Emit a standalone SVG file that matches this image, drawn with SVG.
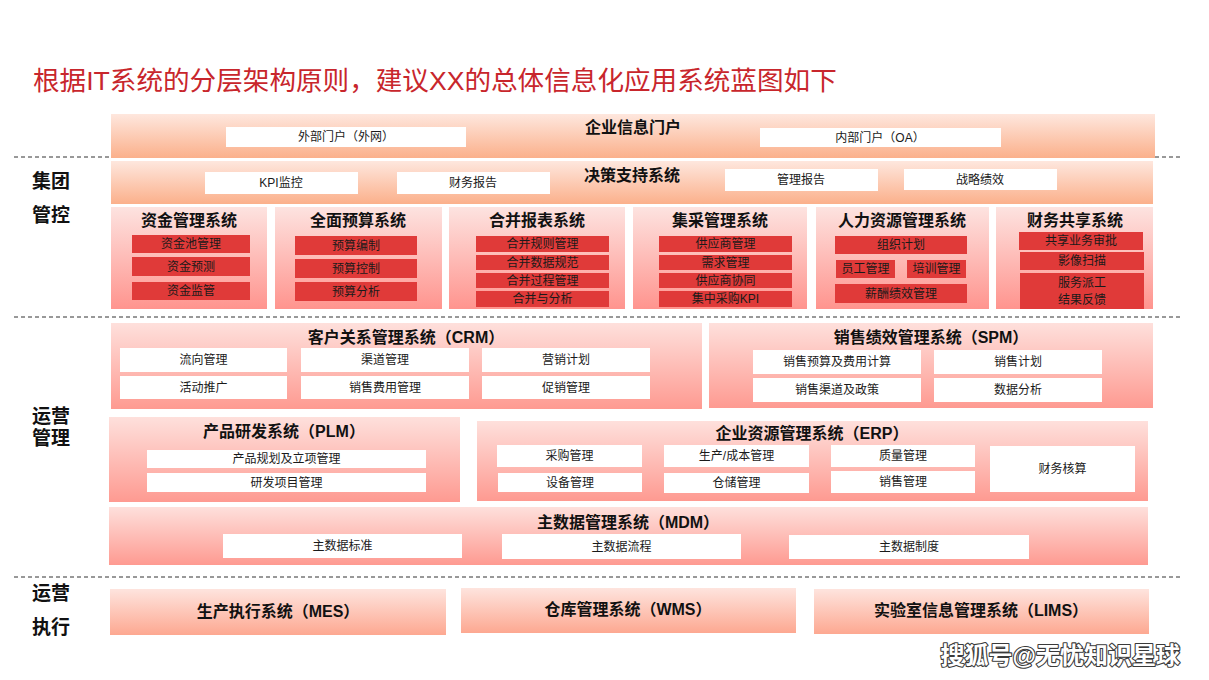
<svg xmlns="http://www.w3.org/2000/svg" width="1209" height="680" viewBox="0 0 1209 680">
<defs>
<linearGradient id="gPeach" x1="0" y1="0" x2="0" y2="1"><stop offset="0" stop-color="#fee7de"/><stop offset="1" stop-color="#fbb08b"/></linearGradient>
<linearGradient id="gPink" x1="0" y1="0" x2="0" y2="1"><stop offset="0" stop-color="#fde3e0"/><stop offset="1" stop-color="#ff948e"/></linearGradient>
<linearGradient id="gSalmon" x1="0" y1="0" x2="0" y2="1"><stop offset="0" stop-color="#fee0dc"/><stop offset="1" stop-color="#fe9a91"/></linearGradient>
<linearGradient id="gBottom" x1="0" y1="0" x2="0" y2="1"><stop offset="0" stop-color="#fee4de"/><stop offset="1" stop-color="#fda891"/></linearGradient>
</defs>
<style>
text{font-family:"Liberation Sans","Noto Sans CJK SC",sans-serif;text-anchor:middle;dominant-baseline:central;fill:#1a1a1a}
.title{font-size:26.6px;fill:#c8262c;text-anchor:start}
.h{font-size:16px;font-weight:bold;fill:#111}
.lbl{font-size:19px;font-weight:bold;fill:#111}
.it{font-size:12px}
.w{fill:#ffffff}
.r{fill:#e03a39}
.div{stroke:#333;stroke-width:1;stroke-dasharray:4 3;fill:none}
.wm{font-size:24px;font-weight:bold;fill:#ffffff;stroke:#3a3a3a;stroke-width:2.2;paint-order:stroke;stroke-linejoin:round;text-anchor:end}
</style>
<rect width="1209" height="680" fill="#ffffff"/>
<text class="title" x="33" y="81">根据IT系统的分层架构原则，建议XX的总体信息化应用系统蓝图如下</text>

<g id="dividers">
<line class="div" x1="14" y1="157" x2="1180" y2="157"/>
<line class="div" x1="14" y1="317" x2="1180" y2="317"/>
<line class="div" x1="14" y1="577" x2="1180" y2="577"/>
</g>
<g id="connectors"></g>

<g id="layer-labels">
<text class="lbl" x="51" y="181">集团</text>
<text class="lbl" x="51" y="215">管控</text>
<text class="lbl" x="51" y="416">运营</text>
<text class="lbl" x="51" y="438">管理</text>
<text class="lbl" x="51" y="593">运营</text>
<text class="lbl" x="51" y="627">执行</text>
</g>

<g id="portal">
<rect x="111" y="114" width="1044" height="44" fill="url(#gPeach)"/>
<text class="h" x="633" y="127.5">企业信息门户</text>
<rect class="w" x="226" y="127" width="240" height="20"/><text class="it" x="346" y="137">外部门户（外网）</text>
<rect class="w" x="760" y="128" width="241" height="19"/><text class="it" x="880" y="137.5">内部门户（OA）</text>
</g>

<g id="dss">
<rect x="111" y="161" width="1042" height="43" fill="url(#gPeach)"/>
<text class="h" x="632" y="175">决策支持系统</text>
<rect class="w" x="205" y="172" width="153" height="22"/><text class="it" x="281" y="183">KPI监控</text>
<rect class="w" x="397" y="172" width="153" height="22"/><text class="it" x="473" y="183">财务报告</text>
<rect class="w" x="725" y="169" width="153" height="22"/><text class="it" x="801" y="180">管理报告</text>
<rect class="w" x="904" y="169" width="153" height="21"/><text class="it" x="980" y="179.5">战略绩效</text>
</g>

<g id="fund">
<rect x="111" y="207" width="156" height="102" fill="url(#gPink)"/>
<text class="h" x="189" y="220.5">资金管理系统</text>
<rect class="r" x="132" y="235" width="118" height="18"/><text class="it" x="191" y="244">资金池管理</text>
<rect class="r" x="132" y="257" width="118" height="19"/><text class="it" x="191" y="266.5">资金预测</text>
<rect class="r" x="132" y="282" width="118" height="18"/><text class="it" x="191" y="291">资金监管</text>
</g>

<g id="budget">
<rect x="275" y="207" width="167" height="102" fill="url(#gPink)"/>
<text class="h" x="358" y="220.5">全面预算系统</text>
<rect class="r" x="295" y="236" width="122" height="19"/><text class="it" x="356" y="245.5">预算编制</text>
<rect class="r" x="295" y="259" width="122" height="19"/><text class="it" x="356" y="268.5">预算控制</text>
<rect class="r" x="295" y="282" width="122" height="19"/><text class="it" x="356" y="291.5">预算分析</text>
</g>

<g id="consolidation">
<rect x="449" y="207" width="176" height="102" fill="url(#gPink)"/>
<text class="h" x="537" y="220.5">合并报表系统</text>
<rect class="r" x="476" y="236" width="133" height="16"/><text class="it" x="542.5" y="244">合并规则管理</text>
<rect class="r" x="476" y="255" width="133" height="15"/><text class="it" x="542.5" y="262.5">合并数据规范</text>
<rect class="r" x="476" y="273" width="133" height="15"/><text class="it" x="542.5" y="280.5">合并过程管理</text>
<rect class="r" x="476" y="291" width="133" height="16"/><text class="it" x="542.5" y="299">合并与分析</text>
</g>

<g id="procurement">
<rect x="633" y="207" width="174" height="102" fill="url(#gPink)"/>
<text class="h" x="720" y="220.5">集采管理系统</text>
<rect class="r" x="659" y="236" width="133" height="16"/><text class="it" x="725.5" y="244">供应商管理</text>
<rect class="r" x="659" y="255" width="133" height="15"/><text class="it" x="725.5" y="262.5">需求管理</text>
<rect class="r" x="659" y="273" width="133" height="15"/><text class="it" x="725.5" y="280.5">供应商协同</text>
<rect class="r" x="659" y="291" width="133" height="16"/><text class="it" x="725.5" y="299">集中采购KPI</text>
</g>

<g id="hr">
<rect x="816" y="207" width="173" height="102" fill="url(#gPink)"/>
<text class="h" x="902" y="220.5">人力资源管理系统</text>
<rect class="r" x="835" y="236" width="132" height="18"/><text class="it" x="901" y="245">组织计划</text>
<rect class="r" x="836" y="260" width="59" height="18"/><text class="it" x="865.5" y="269">员工管理</text>
<rect class="r" x="907" y="260" width="59" height="18"/><text class="it" x="936.5" y="269">培训管理</text>
<rect class="r" x="835" y="284" width="132" height="19"/><text class="it" x="901" y="293.5">薪酬绩效管理</text>
</g>

<g id="fssc">
<rect x="996" y="207" width="157" height="102" fill="url(#gPink)"/>
<text class="h" x="1075" y="220.5">财务共享系统</text>
<rect class="r" x="1019" y="232" width="124" height="18"/><text class="it" x="1081" y="241">共享业务审批</text>
<rect class="r" x="1020" y="252" width="124" height="18"/><text class="it" x="1082" y="261">影像扫描</text>
<rect class="r" x="1020" y="273" width="124" height="36"/><text class="it" x="1082" y="282.5">服务派工</text><text class="it" x="1082" y="299.5">结果反馈</text>
</g>

<g id="crm">
<rect x="111" y="323" width="591" height="86" fill="url(#gSalmon)"/>
<text class="h" x="406" y="337">客户关系管理系统（CRM）</text>
<rect class="w" x="120" y="348" width="167" height="24"/><text class="it" x="203.5" y="360">流向管理</text>
<rect class="w" x="301" y="348" width="168" height="24"/><text class="it" x="385" y="360">渠道管理</text>
<rect class="w" x="482" y="348" width="168" height="24"/><text class="it" x="566" y="360">营销计划</text>
<rect class="w" x="120" y="376" width="167" height="23"/><text class="it" x="203.5" y="387.5">活动推广</text>
<rect class="w" x="301" y="376" width="168" height="23"/><text class="it" x="385" y="387.5">销售费用管理</text>
<rect class="w" x="482" y="376" width="168" height="23"/><text class="it" x="566" y="387.5">促销管理</text>
</g>

<g id="spm">
<rect x="709" y="323" width="444" height="85" fill="url(#gSalmon)"/>
<text class="h" x="931" y="337">销售绩效管理系统（SPM）</text>
<rect class="w" x="753" y="350" width="168" height="24"/><text class="it" x="837" y="362">销售预算及费用计算</text>
<rect class="w" x="934" y="350" width="168" height="24"/><text class="it" x="1018" y="362">销售计划</text>
<rect class="w" x="753" y="378" width="168" height="24"/><text class="it" x="837" y="390">销售渠道及政策</text>
<rect class="w" x="934" y="378" width="168" height="24"/><text class="it" x="1018" y="390">数据分析</text>
</g>

<g id="plm">
<rect x="109" y="417" width="351" height="85" fill="url(#gSalmon)"/>
<text class="h" x="284" y="431">产品研发系统（PLM）</text>
<rect class="w" x="147" y="450" width="279" height="18"/><text class="it" x="286.5" y="459">产品规划及立项管理</text>
<rect class="w" x="147" y="473" width="279" height="19"/><text class="it" x="286.5" y="482.5">研发项目管理</text>
</g>

<g id="erp">
<rect x="477" y="421" width="671" height="80" fill="url(#gSalmon)"/>
<text class="h" x="812" y="433">企业资源管理系统（ERP）</text>
<rect class="w" x="497" y="445" width="145" height="22"/><text class="it" x="569.5" y="456">采购管理</text>
<rect class="w" x="498" y="473" width="144" height="19"/><text class="it" x="570" y="482.5">设备管理</text>
<rect class="w" x="664" y="445" width="145" height="22"/><text class="it" x="736.5" y="456">生产/成本管理</text>
<rect class="w" x="664" y="473" width="145" height="20"/><text class="it" x="736.5" y="483">仓储管理</text>
<rect class="w" x="831" y="445" width="144" height="22"/><text class="it" x="903" y="456">质量管理</text>
<rect class="w" x="831" y="471" width="144" height="22"/><text class="it" x="903" y="482">销售管理</text>
<rect class="w" x="990" y="446" width="145" height="46"/><text class="it" x="1062.5" y="469">财务核算</text>
</g>

<g id="mdm">
<rect x="109" y="507" width="1039" height="58" fill="url(#gSalmon)"/>
<text class="h" x="628" y="522">主数据管理系统（MDM）</text>
<rect class="w" x="223" y="534" width="239" height="24"/><text class="it" x="342.5" y="546">主数据标准</text>
<rect class="w" x="502" y="534" width="239" height="25"/><text class="it" x="621.5" y="546.5">主数据流程</text>
<rect class="w" x="789" y="535" width="240" height="24"/><text class="it" x="909" y="547">主数据制度</text>
</g>

<g id="mes">
<rect x="110" y="589" width="336" height="46" fill="url(#gBottom)"/>
<text class="h" x="278" y="611">生产执行系统（MES）</text>
</g>
<g id="wms">
<rect x="461" y="588" width="335" height="45" fill="url(#gBottom)"/>
<text class="h" x="628" y="609.5">仓库管理系统（WMS）</text>
</g>
<g id="lims">
<rect x="814" y="589" width="335" height="45" fill="url(#gBottom)"/>
<text class="h" x="981" y="610.5">实验室信息管理系统（LIMS）</text>
</g>

<text class="wm" x="1180" y="655">搜狐号@无忧知识星球</text>
</svg>
